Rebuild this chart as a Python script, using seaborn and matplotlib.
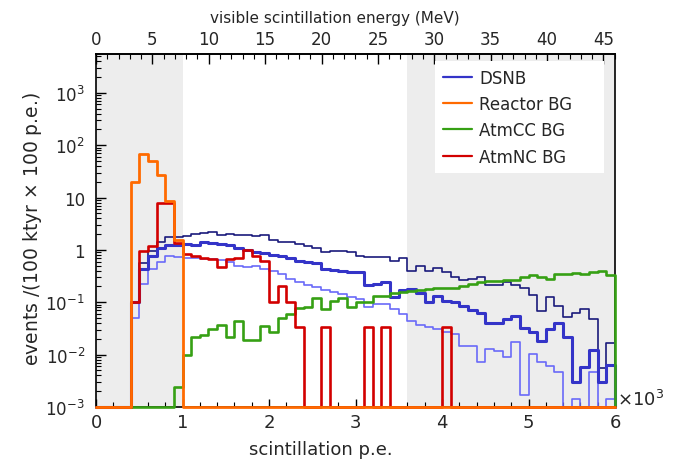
import numpy as np
import pandas as pd
import matplotlib
matplotlib.use("Agg")
import matplotlib.pyplot as plt
import seaborn as sns
from matplotlib.lines import Line2D
from matplotlib.ticker import (MultipleLocator, LogLocator, FixedLocator,
                               NullFormatter)

# ---------------- data (events per 100 p.e. bin, 0..6000 p.e.) ----------------
bin_edges = np.arange(0, 6001, 100)

dsnb_dark = [0, 0, 0, 0, 0.1, 0.55, 0.96, 1.39, 1.73, 1.73,
             1.86, 2.0, 2.1, 2.2, 1.94, 2.0, 1.92, 1.92, 1.81, 1.92,
             1.54, 1.39, 1.43, 1.29, 1.2, 1.11, 0.92, 0.96, 0.96, 0.9,
             0.75, 0.72, 0.74, 0.74, 0.62, 0.69, 0.40, 0.50, 0.40, 0.46,
             0.38, 0.30, 0.27, 0.277, 0.31, 0.216, 0.216, 0.245, 0.21, 0.185,
             0.14, 0.068, 0.125, 0.085, 0.052, 0.062, 0.074, 0.048, 0.0056, 0.017]

dsnb_mid = [0, 0, 0, 0, 0.1, 0.43, 0.77, 1.07, 1.24, 1.24,
            1.29, 1.24, 1.39, 1.35, 1.29, 1.24, 1.07, 0.99, 0.9, 0.86,
            0.81, 0.75, 0.70, 0.62, 0.58, 0.55, 0.43, 0.42, 0.40, 0.38,
            0.38, 0.216, 0.22, 0.24, 0.124, 0.173, 0.179, 0.15, 0.099, 0.133,
            0.107, 0.10, 0.083, 0.072, 0.062, 0.041, 0.041, 0.048, 0.055, 0.032,
            0.027, 0.018, 0.031, 0.040, 0.022, 0.003, 0.0058, 0.0122, 0.003, 0.0063]

dsnb_light = [0, 0, 0, 0, 0.049, 0.22, 0.43, 0.58, 0.77, 0.72,
              0.69, 0.69, 0.67, 0.67, 0.64, 0.58, 0.50, 0.48, 0.50, 0.44,
              0.40, 0.345, 0.277, 0.247, 0.213, 0.192, 0.173, 0.154, 0.144, 0.124,
              0.115, 0.08, 0.092, 0.092, 0.074, 0.060, 0.044, 0.037, 0.033, 0.031,
              0.027, 0.025, 0.0148, 0.0148, 0.0073, 0.013, 0.0119, 0.0092, 0.0176, 0.0017,
              0.0103, 0.0071, 0.0062, 0.0046, 0, 0.00145, 0, 0.0046, 0, 0.00145]

reactor_bg = [0, 0, 0, 0, 20, 68, 49, 27, 8.5, 1.55] + [0] * 50

atmcc_bg = [0, 0, 0, 0, 0, 0, 0, 0, 0, 0.0024,
            0.0098, 0.0214, 0.0237, 0.0308, 0.0367, 0.022, 0.0443, 0.0193, 0.019, 0.0347,
            0.0266, 0.0499, 0.0595, 0.0775, 0.08, 0.119, 0.074, 0.107, 0.12, 0.08,
            0.1, 0.1, 0.133, 0.133, 0.150, 0.159, 0.166, 0.173, 0.178, 0.186,
            0.19, 0.19, 0.205, 0.222, 0.24, 0.258, 0.25, 0.27, 0.265, 0.30,
            0.33, 0.30, 0.277, 0.345, 0.345, 0.36, 0.345, 0.375, 0.40, 0.33]

atmnc_bg = [0, 0, 0, 0, 0.1, 0.96, 1.2, 8.0, 8.0, 1.38,
            0.83, 0.75, 0.69, 0.67, 0.48, 0.67, 0.71, 1.0, 0.75, 0.62,
            0.1, 0.2, 0.1, 0.033, 0, 0, 0.033, 0, 0, 0,
            0, 0.033, 0, 0.033, 0, 0, 0, 0, 0, 0,
            0.033] + [0] * 19

legend_labels = ["DSNB", "Reactor BG", "AtmCC BG", "AtmNC BG"]
ytick_values = [1e-3, 1e-2, 1e-1, 1, 10, 100, 1000]
ytick_labels = [r"$10^{-3}$", r"$10^{-2}$", r"$10^{-1}$", "1", "10", r"$10^{2}$", r"$10^{3}$"]
xtick_values = [0, 1000, 2000, 3000, 4000, 5000, 6000]
xtick_labels = ["0", "1", "2", "3", "4", "5", "6"]
energy_ticks = [0, 5, 10, 15, 20, 25, 30, 35, 40, 45]
veto_regions = [(0, 1000), (3600, 6000)]
mev_per_pe = 0.00767

# ---------------- style ----------------
sns.set_style("ticks")
plt.rcParams["font.family"] = ["DejaVu Sans"]
plt.rcParams["mathtext.fontset"] = "dejavusans"

W, H = 683, 460
fig = plt.figure(figsize=(W / 100, H / 100), dpi=100)
ax = fig.add_axes([96 / W, 1 - 408 / H, 519 / W, 353 / H])
ax.set_yscale("log")
ax.set_xlim(0, 6000)
ax.set_ylim(1e-3, 5.5e3)

for lo, hi in veto_regions:
    ax.axvspan(lo, hi, facecolor="#ededed", edgecolor="none", zorder=0)

FLOOR = 1e-3


def step_hist(values, color, lw, z):
    v = np.asarray(values, float)
    v = np.where(v > FLOOR, v, FLOOR)
    x = np.concatenate([bin_edges[:-1], [bin_edges[-1], bin_edges[-1]]])
    y = np.concatenate([v, [v[-1], FLOOR]])
    df = pd.DataFrame({"x": x, "y": y})
    sns.lineplot(data=df, x="x", y="y", ax=ax, color=color, linewidth=lw,
                 drawstyle="steps-post", estimator=None, sort=False,
                 zorder=z, clip_on=False, legend=False)


c_dark, c_mid, c_light = "#1a1a7c", "#3434c8", "#6a6af8"
c_orange, c_green, c_red = "#ff6a00", "#36a014", "#d20000"

step_hist(dsnb_light, c_light, 1.2, 3)
step_hist(dsnb_dark, c_dark, 1.2, 4)
step_hist(dsnb_mid, c_mid, 2.2, 5)
step_hist(atmcc_bg, c_green, 1.9, 6)
step_hist(atmnc_bg, c_red, 1.9, 7)
step_hist(reactor_bg, c_orange, 2.0, 8)

ax.set_xlabel("")
ax.set_ylabel("")

# axes, ticks
for s in ax.spines.values():
    s.set_color("black")
    s.set_linewidth(1.2)

ax.xaxis.set_major_locator(FixedLocator(xtick_values))
ax.set_xticklabels(xtick_labels)
ax.xaxis.set_minor_locator(MultipleLocator(200))
ax.yaxis.set_major_locator(FixedLocator(ytick_values))
ax.set_yticklabels(ytick_labels)
ax.yaxis.set_minor_locator(LogLocator(base=10, subs=np.arange(2, 10), numticks=30))
ax.yaxis.set_minor_formatter(NullFormatter())

ax.tick_params(axis="x", which="major", direction="in", length=6, width=1,
               labelsize=13, pad=4, bottom=True, top=False, color="black")
ax.tick_params(axis="x", which="minor", direction="in", length=3.5, width=0.8,
               bottom=True, top=False, color="black")
ax.tick_params(axis="y", which="major", direction="in", length=7.5, width=1,
               labelsize=12, pad=8, left=True, right=False, color="black")
ax.tick_params(axis="y", which="minor", direction="in", length=3.8, width=0.8,
               left=True, right=False, color="black")

sec = ax.secondary_xaxis("top", functions=(lambda p: p * mev_per_pe,
                                           lambda e: e / mev_per_pe))
sec.xaxis.set_major_locator(FixedLocator(energy_ticks))
sec.xaxis.set_minor_locator(MultipleLocator(1))
sec.tick_params(which="major", direction="in", length=7.5, width=1,
                labelsize=12, pad=4, color="black")
sec.tick_params(which="minor", direction="in", length=3.8, width=0.8, color="black")
for s in sec.spines.values():
    s.set_linewidth(1.2)
    s.set_color("black")

# labels
fig.text(321 / W, 1 - 450 / H, "scintillation p.e.", ha="center", va="center",
         fontsize=13)
fig.text(33 / W, 1 - 229 / H, "events /(100 ktyr $\\times$ 100 p.e.)",
         rotation=90, ha="center", va="center", fontsize=13.5)
fig.text(335 / W, 1 - 18 / H, "visible scintillation energy (MeV)",
         ha="center", va="center", fontsize=11)
fig.text(617 / W, 1 - 400 / H, r"$\times10^{3}$", ha="left", va="center",
         fontsize=13)

# legend
handles = [Line2D([], [], color=c, lw=1.6) for c in (c_mid, c_orange, c_green, c_red)]
leg = ax.legend(handles, legend_labels, loc="upper left",
                bbox_to_anchor=(0.6532, 0.980, 0.3256, 0.0), mode="expand",
                borderaxespad=0, fontsize=12, handlelength=1.75,
                handletextpad=0.45, labelspacing=0.5, borderpad=0.45,
                frameon=True, fancybox=False, framealpha=1,
                facecolor="white", edgecolor="none")
leg.set_zorder(10)

fig.savefig("out.png", dpi=100)
